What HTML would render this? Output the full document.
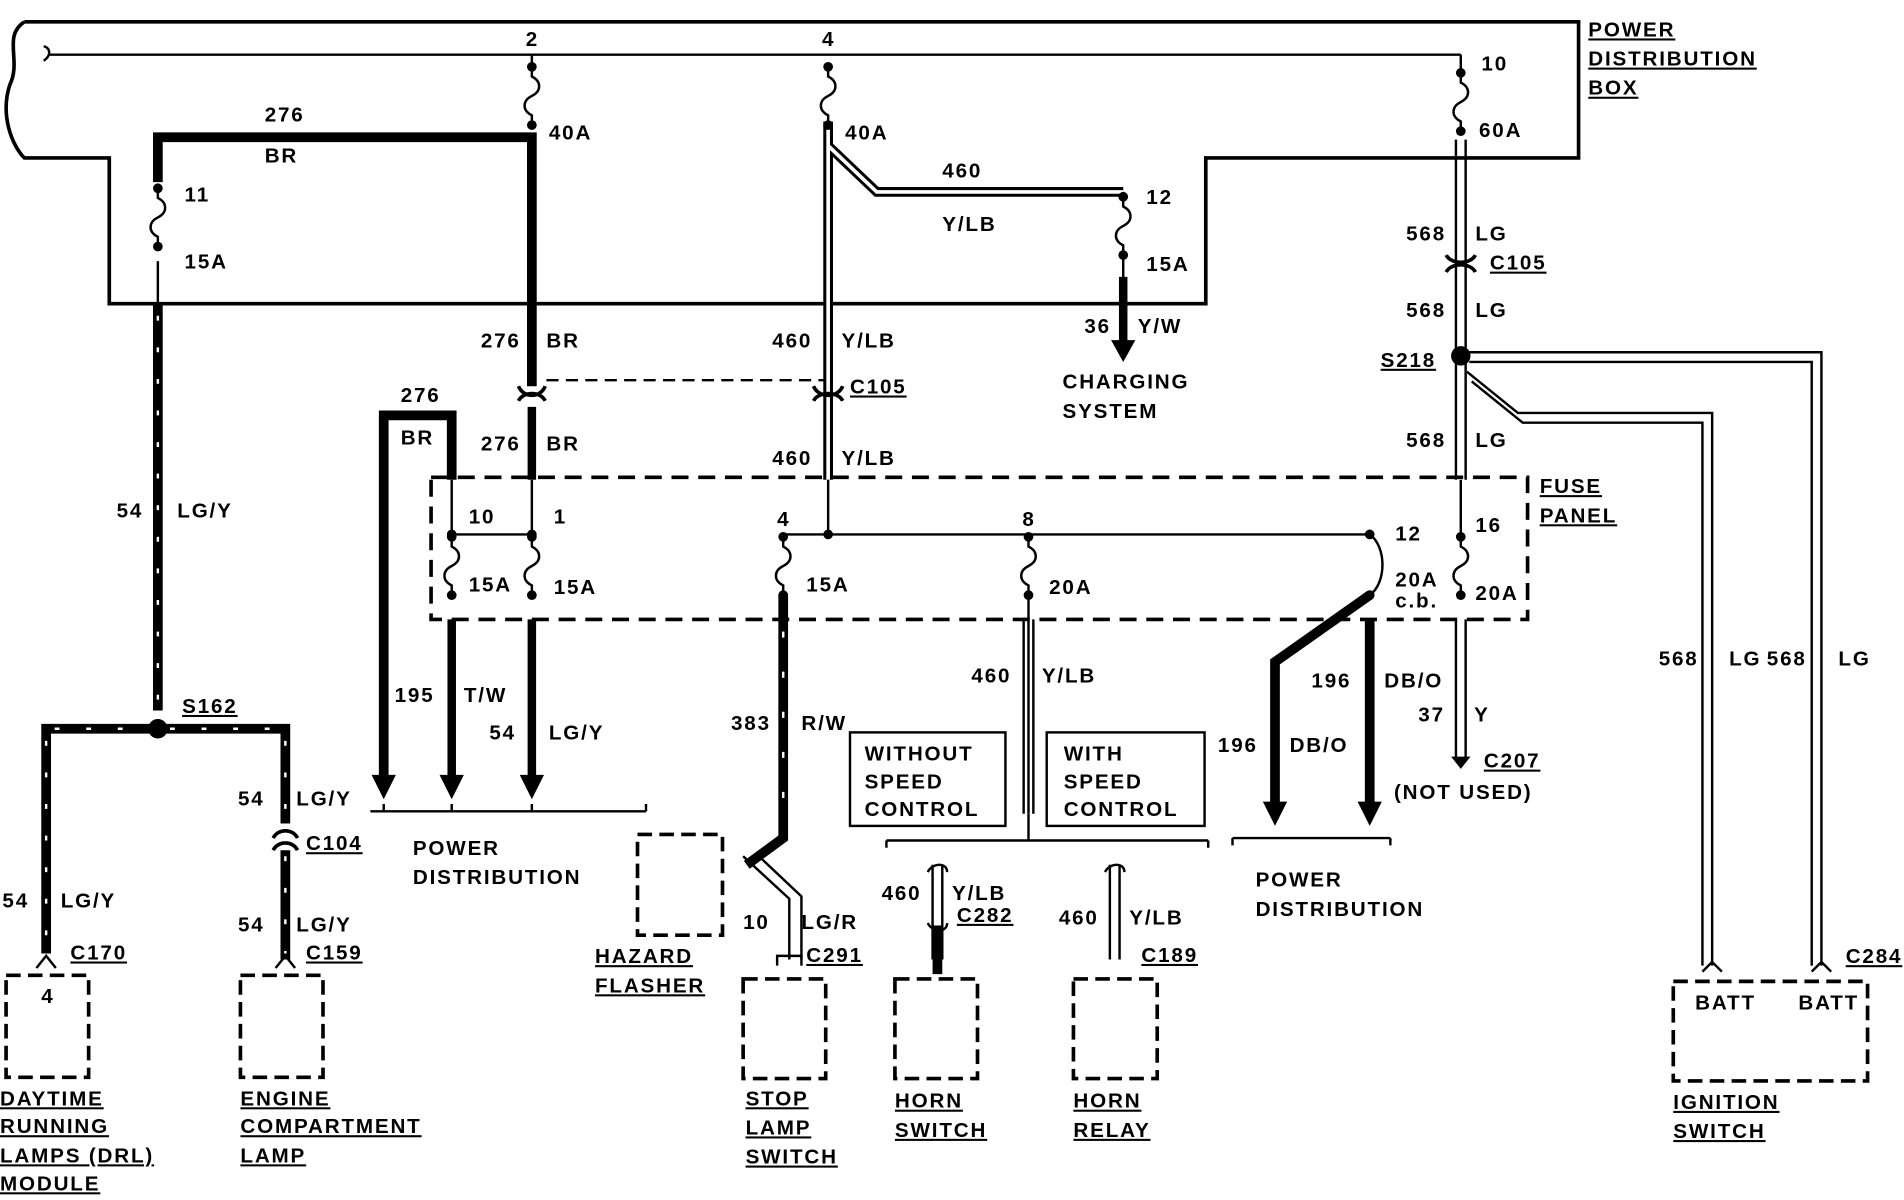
<!DOCTYPE html>
<html><head><meta charset="utf-8"><style>
html,body{margin:0;padding:0;background:#fff;}
svg{display:block;}
text{font-family:"Liberation Sans",sans-serif;font-weight:bold;font-size:17px;letter-spacing:1.5px;fill:#000;}
.u{text-decoration:underline;}
</style></head><body>
<svg width="1904" height="1200" viewBox="0 0 1568 988" preserveAspectRatio="none" xmlns="http://www.w3.org/2000/svg">
<defs>
<g id="fz"><path d="M0 0 v8 c8 4 8 12 0 16 c-8 4 -8 12 0 16 v8" fill="none" stroke="#000" stroke-width="2"/><circle cx="0" cy="0" r="4"/><circle cx="0" cy="48" r="4"/></g>
</defs>
<g fill="none" stroke="#000">
<path d="M20 18 H1300 V130 H993 V250 H90 V130 H20 C10 120 0 95 8 70 C18 50 2 30 20 18" stroke-width="3"/>
<path d="M40 45 H1203" stroke-width="2"/>
<path d="M36 38 c6 2 6 8 0 12" stroke-width="2"/>
<path d="M130 150 V113 H438 V318" stroke-width="8"/>
<path d="M438 45 V58" stroke-width="2"/>
<path d="M438 335 V395" stroke-width="7"/>
<path d="M427 318 c4 10 18 10 22 0 M427 330 c4 -8 18 -8 22 0" stroke-width="3"/>
<path d="M450 313 H682" stroke-width="2" stroke-dasharray="10 6"/>
<path d="M372 395 V342 H316 V640" stroke-width="8"/>
<path d="M372 395 V440 H438 M438 395 V440" stroke-width="2"/>
<path d="M372 510 V640 M438 510 V640" stroke-width="7"/>
<path d="M305 668 H532 M316 668 v-6 M372 668 v-6 M438 668 v-6 M532 668 v-6" stroke-width="2"/>
<path d="M130 215 V250" stroke-width="2"/>
<path d="M130 250 V585 M38 785 V600 H235 V678 M235 700 V790" stroke-width="8"/>
<path d="M130 260 V580 M38 610 V780 M235 610 V675 M235 705 V785 M45 600 H125 M140 600 H230" stroke="#fff" stroke-width="2" stroke-dasharray="4 22"/>
<path d="M225 690 c4 -8 16 -8 20 0 M225 700 c4 -8 16 -8 20 0" stroke-width="3"/>
<path d="M682 100 V395 M682 120 L722 158 H925" stroke-width="8"/>
<path d="M682 100 V395 M682 120 L722 158 H925" stroke="#fff" stroke-width="3"/>
<path d="M670 318 c4 10 20 10 24 0 M670 330 c4 -8 20 -8 24 0" stroke-width="3"/>
<path d="M682 395 V440 M645 440 H1128" stroke-width="2"/>
<path d="M925 208 V230" stroke-width="2"/>
<path d="M925 228 V282" stroke-width="7"/>
<path d="M645 490 V690 L615 712" stroke-width="8"/>
<path d="M645 520 V685" stroke="#fff" stroke-width="2" stroke-dasharray="5 28"/>
<path d="M612 705 L650 740 V790 M625 705 L660 738 V790" stroke-width="2"/>
<path d="M640 795 v-8 h20 v8" stroke-width="2"/>
<path d="M847 490 V670 M843 510 V670 M851 510 V670" stroke-width="2"/>
<path d="M730 692 H995 M730 692 v6 M995 692 v6 M847 670 v22" stroke-width="2"/>
<rect x="700" y="603" width="128" height="77" stroke-width="2"/>
<rect x="862" y="603" width="130" height="77" stroke-width="2"/>
<path d="M768 712 V790 M776 712 V790 M914 712 V790 M922 712 V790" stroke-width="2"/>
<path d="M772 762 V802" stroke-width="8"/>
<path d="M764 718 c4 -8 16 -8 16 0 M764 760 c4 8 16 8 16 0 M910 718 c4 -8 16 -8 16 0" stroke-width="2"/>
<path d="M1128 440 c14 10 14 40 0 50" stroke-width="2"/>
<path d="M1128 490 L1050 545 V662 M1128 510 V662" stroke-width="8"/>
<path d="M1015 690 H1145 M1015 690 v6 M1145 690 v6" stroke-width="2"/>
<path d="M1203 45 V60 M1199 115 V395 M1207 115 V395 M1203 395 V440 M1199 510 V625 M1207 510 V625" stroke-width="2"/>
<path d="M1191 210 c4 8 20 8 24 0 M1191 224 c4 -8 20 -8 24 0" stroke-width="3"/>
<path d="M1203 290 H1500 V795 M1210 298 H1492 V795 M1208 306 L1250 340 H1410 V795 M1212 314 L1254 348 H1402 V795" stroke-width="2"/>
<rect x="355" y="393" width="903" height="117" stroke-width="3" stroke-dasharray="14 8"/>
<g stroke-width="3" stroke-dasharray="12 6">
<rect x="5" y="803" width="68" height="84"/>
<rect x="198" y="803" width="68" height="84"/>
<rect x="525" y="687" width="70" height="83"/>
<rect x="612" y="806" width="68" height="82"/>
<rect x="737" y="806" width="68" height="82"/>
<rect x="884" y="806" width="69" height="82"/>
<rect x="1378" y="808" width="160" height="82"/>
</g>
<path d="M30 797 l8 -10 l8 10 M227 797 l8 -10 l8 10 M1402 800 l8 -8 l8 8 M1492 800 l8 -8 l8 8" stroke-width="2"/>
</g>
<g fill="#000">
<path d="M306 638 h20 l-10 20z M362 638 h20 l-10 20z M428 638 h20 l-10 20z M915 280 h20 l-10 18z M1040 660 h20 l-10 20z M1118 660 h20 l-10 20z M1195 623 h16 l-8 10z"/>
<circle cx="130" cy="600" r="8"/><circle cx="1203" cy="293" r="8"/>
<circle cx="682" cy="440" r="4"/><circle cx="372" cy="440" r="4"/><circle cx="438" cy="440" r="4"/>
</g>
<use href="#fz" x="438" y="55"/><use href="#fz" x="682" y="55"/><use href="#fz" x="1203" y="60"/>
<use href="#fz" x="130" y="155"/><use href="#fz" x="925" y="162"/>
<use href="#fz" x="372" y="442"/><use href="#fz" x="438" y="442"/><use href="#fz" x="645" y="442"/><use href="#fz" x="847" y="442"/><use href="#fz" x="1203" y="442"/>
<circle cx="1128" cy="440" r="4"/><circle cx="1128" cy="490" r="4"/>
<text x="1308" y="30" class="u">POWER</text><text x="1308" y="54" class="u">DISTRIBUTION</text><text x="1308" y="78" class="u">BOX</text>
<text x="433" y="38" font-size="13">2</text><text x="677" y="38" font-size="13">4</text><text x="1220" y="58" font-size="13">10</text>
<text x="452" y="115" font-size="14">40A</text><text x="696" y="115" font-size="14">40A</text><text x="1218" y="113" font-size="14">60A</text>
<text x="218" y="100">276</text><text x="218" y="134">BR</text>
<text x="152" y="166" font-size="14">11</text><text x="152" y="221" font-size="14">15A</text>
<text x="776" y="146">460</text><text x="776" y="190">Y/LB</text>
<text x="944" y="168" font-size="14">12</text><text x="944" y="223" font-size="14">15A</text>
<text x="893" y="274">36</text><text x="937" y="274">Y/W</text>
<text x="875" y="320">CHARGING</text><text x="875" y="344">SYSTEM</text>
<text x="1158" y="198">568</text><text x="1215" y="198">LG</text><text x="1227" y="222" class="u">C105</text>
<text x="1158" y="261">568</text><text x="1215" y="261">LG</text>
<text x="1137" y="302" class="u">S218</text>
<text x="1158" y="368">568</text><text x="1215" y="368">LG</text>
<text x="1268" y="406" class="u">FUSE</text><text x="1268" y="430" class="u">PANEL</text>
<text x="1215" y="438" font-size="14">16</text><text x="1215" y="494" font-size="14">20A</text>
<text x="1149" y="445" font-size="14">12</text><text x="1149" y="483" font-size="14">20A</text><text x="1149" y="500" font-size="13">c.b.</text>
<text x="396" y="286">276</text><text x="450" y="286">BR</text>
<text x="636" y="286">460</text><text x="693" y="286">Y/LB</text>
<text x="700" y="324" class="u">C105</text>
<text x="330" y="331">276</text><text x="330" y="366">BR</text>
<text x="396" y="371">276</text><text x="450" y="371">BR</text>
<text x="636" y="383">460</text><text x="693" y="383">Y/LB</text>
<text x="386" y="431" font-size="14">10</text><text x="456" y="431" font-size="14">1</text>
<text x="386" y="487" font-size="14">15A</text><text x="456" y="489" font-size="14">15A</text>
<text x="640" y="433" font-size="14">4</text><text x="842" y="433" font-size="14">8</text>
<text x="664" y="487" font-size="14">15A</text><text x="864" y="489" font-size="14">20A</text>
<text x="96" y="426">54</text><text x="146" y="426">LG/Y</text>
<text x="150" y="587" class="u">S162</text>
<text x="325" y="578">195</text><text x="382" y="578">T/W</text>
<text x="403" y="609">54</text><text x="452" y="609">LG/Y</text>
<text x="340" y="704">POWER</text><text x="340" y="728">DISTRIBUTION</text>
<text x="602" y="601">383</text><text x="660" y="601">R/W</text>
<text x="800" y="562">460</text><text x="858" y="562">Y/LB</text>
<text x="712" y="626">WITHOUT</text><text x="712" y="649">SPEED</text><text x="712" y="672">CONTROL</text>
<text x="876" y="626">WITH</text><text x="876" y="649">SPEED</text><text x="876" y="672">CONTROL</text>
<text x="1080" y="566">196</text><text x="1140" y="566">DB/O</text>
<text x="1003" y="619">196</text><text x="1062" y="619">DB/O</text>
<text x="1168" y="594">37</text><text x="1214" y="594">Y</text>
<text x="1222" y="632" class="u">C207</text><text x="1148" y="658">(NOT USED)</text>
<text x="1034" y="730">POWER</text><text x="1034" y="754">DISTRIBUTION</text>
<text x="1366" y="548">568</text><text x="1424" y="548">LG</text><text x="1455" y="548">568</text><text x="1514" y="548">LG</text>
<text x="1520" y="793" class="u">C284</text>
<text x="1396" y="831" font-size="14">BATT</text><text x="1481" y="831" font-size="14">BATT</text>
<text x="1378" y="913" class="u">IGNITION</text><text x="1378" y="937" class="u">SWITCH</text>
<text x="196" y="663">54</text><text x="244" y="663">LG/Y</text><text x="252" y="700" class="u">C104</text>
<text x="196" y="767">54</text><text x="244" y="767">LG/Y</text><text x="252" y="790" class="u">C159</text>
<text x="2" y="747">54</text><text x="50" y="747">LG/Y</text><text x="58" y="790" class="u">C170</text>
<text x="34" y="826" font-size="13">4</text>
<text x="490" y="793" class="u">HAZARD</text><text x="490" y="817" class="u">FLASHER</text>
<text x="612" y="765">10</text><text x="660" y="765">LG/R</text><text x="664" y="792" class="u">C291</text>
<text x="726" y="741">460</text><text x="784" y="741">Y/LB</text><text x="788" y="759" class="u">C282</text>
<text x="872" y="761">460</text><text x="930" y="761">Y/LB</text><text x="940" y="792" class="u">C189</text>
<text x="0" y="910" class="u">DAYTIME</text><text x="0" y="933" class="u">RUNNING</text><text x="0" y="957" class="u">LAMPS (DRL)</text><text x="0" y="980" class="u">MODULE</text>
<text x="198" y="910" class="u">ENGINE</text><text x="198" y="933" class="u">COMPARTMENT</text><text x="198" y="957" class="u">LAMP</text>
<text x="614" y="910" class="u">STOP</text><text x="614" y="934" class="u">LAMP</text><text x="614" y="958" class="u">SWITCH</text>
<text x="737" y="912" class="u">HORN</text><text x="737" y="936" class="u">SWITCH</text>
<text x="884" y="912" class="u">HORN</text><text x="884" y="936" class="u">RELAY</text>
</svg>
</body></html>
